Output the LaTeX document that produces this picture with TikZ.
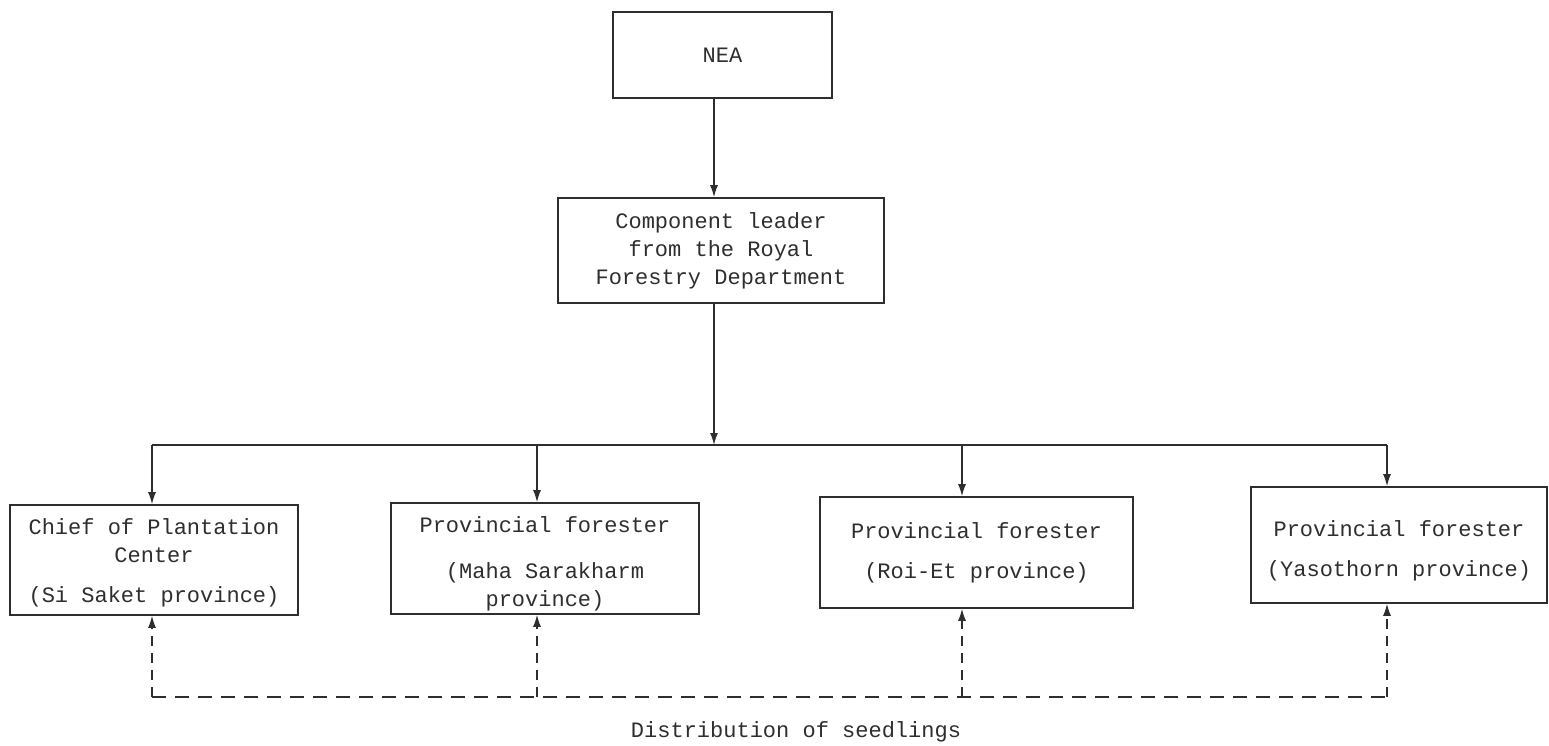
\documentclass[tikz,border=0pt]{standalone}
\usepackage{fontspec}
\setmainfont{Liberation Mono}
\usetikzlibrary{arrows.meta}
\definecolor{ink}{HTML}{2E2E2E}
\tikzset{
  box/.style={draw=ink, line width=1.6pt, align=center, inner sep=0pt, text=ink,
    font=\fontsize{22}{28}\selectfont},
  arr/.style={draw=ink, line width=1.4pt, -{Latex[length=12pt,width=8pt]}},
  bus/.style={draw=ink, line width=1.4pt},
  darr/.style={draw=ink, line width=1.3pt, dash pattern=on 10pt off 7pt, -{Latex[length=12pt,width=8pt]}},
  dline/.style={draw=ink, line width=1.3pt, dash pattern=on 14pt off 9pt},
  lbl/.style={text=ink, font=\fontsize{22}{28}\selectfont}
}
\begin{document}
\begin{tikzpicture}[x=1pt,y=-1pt]
\useasboundingbox (0,0) rectangle (1549,745);
\node[box, minimum width=219pt, minimum height=86pt] (nea) at (722.5,55) {NEA};
\node[box, minimum width=326pt, minimum height=105pt] (comp) at (721,250.5)
  {Component leader\\from the Royal\\Forestry Department};
\node[box, minimum width=288pt, minimum height=110pt] (b1box) at (154,560)
  {\rule{0pt}{22pt}Chief of Plantation\\Center\\[12pt](Si Saket province)};
\node[box, minimum width=308pt, minimum height=111pt] (b2box) at (545,558.5)
  {\rule{0pt}{27pt}Provincial forester\\[18pt](Maha Sarakharm\\province)};
\node[box, minimum width=313pt, minimum height=111pt] (b3box) at (976.5,552.5)
  {Provincial forester\\[12pt](Roi-Et province)};
\node[box, minimum width=296pt, minimum height=116pt] (b4box) at (1399,545)
  {\rule{0pt}{27pt}Provincial forester\\[12pt](Yasothorn province)};
\node[lbl] (dist) at (796,732) {Distribution of seedlings};

\coordinate (top) at (714,98);
\coordinate (bus) at (714,445);
\coordinate (b1) at (152,445);
\coordinate (b2) at (537,445);
\coordinate (b3) at (962,445);
\coordinate (b4) at (1387,445);
\coordinate (d1) at (152,697);
\coordinate (d2) at (537,697);
\coordinate (d3) at (962,697);
\coordinate (d4) at (1387,697);

\draw[arr] (top |- nea.south) -- (top |- comp.north);
\draw[arr] (bus |- comp.south) -- (bus);
\draw[bus] (b1) -- (b4);
\draw[arr] (b1) -- (b1 |- b1box.north);
\draw[arr] (b2) -- (b2 |- b2box.north);
\draw[arr] (b3) -- (b3 |- b3box.north);
\draw[arr] (b4) -- (b4 |- b4box.north);
\draw[dline] (d1) -- (d4);
\draw[darr] (d1) -- (d1 |- b1box.south);
\draw[darr] (d2) -- (d2 |- b2box.south);
\draw[darr] (d3) -- (d3 |- b3box.south);
\draw[darr] (d4) -- (d4 |- b4box.south);
\end{tikzpicture}
\end{document}
